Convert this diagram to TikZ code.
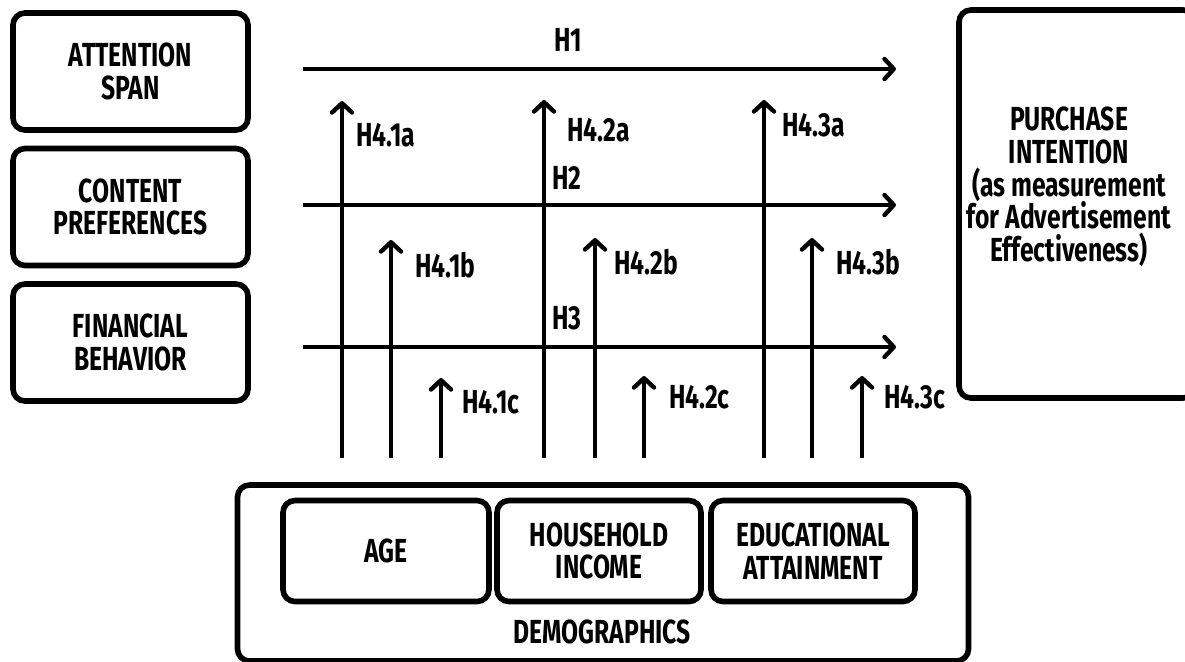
\documentclass[tikz,border=0pt]{standalone}
\usepackage{fontspec}
\setmainfont{Fira Sans}[FakeStretch=0.74]
\usetikzlibrary{arrows.meta}
\begin{document}
\begin{tikzpicture}[x=0.75pt,y=-0.75pt,
  box/.style={draw, line width=4.2pt, rounded corners=9pt, inner sep=0pt, align=center,
    font=\bfseries\fontsize{25}{24.6}\selectfont},
  txt/.style={inner sep=0pt, align=center, font=\bfseries\fontsize{25}{24.6}\selectfont},
  lab/.style={inner sep=0pt, anchor=west, font=\bfseries\fontsize{25}{24.6}\selectfont},
  arr/.style={line width=3.3pt, -{Straight Barb[length=7pt,width=15pt,line width=3.3pt,line cap=round,line join=round]}},
]
\useasboundingbox (0,0) rectangle (1185,661);
\begin{scope}
\clip (0,0) rectangle (1185,661);
% left boxes
\node[box, minimum width={235*0.75pt}, minimum height={117*0.75pt}] (att) at (130.5,71.5) {ATTENTION\\SPAN};
\node[box, minimum width={235*0.75pt}, minimum height={117*0.75pt}] (con) at (130.5,207) {CONTENT\\PREFERENCES};
\node[box, minimum width={235*0.75pt}, minimum height={117*0.75pt}] (fin) at (130.5,342.5) {FINANCIAL\\BEHAVIOR};
% right box
\node[box, minimum width={236*0.75pt}, minimum height={388*0.75pt}] (pi) at (1077,204) {};
\node[txt] (pitext) at (1069,187) {PURCHASE\\INTENTION\\(as measurement\\for Advertisement\\Effectiveness)};
% demographics
\node[box, minimum width={731*0.75pt}, minimum height={176*0.75pt}] (dem) at (603,573) {};
\node[txt] (demtext) at (602,632) {DEMOGRAPHICS};
\node[box, minimum width={206*0.75pt}, minimum height={101*0.75pt}] (age) at (386,551) {AGE};
\node[box, minimum width={204*0.75pt}, minimum height={101*0.75pt}] (inc) at (599,551) {HOUSEHOLD\\INCOME};
\node[box, minimum width={204*0.75pt}, minimum height={101*0.75pt}] (edu) at (813,551) {EDUCATIONAL\\ATTAINMENT};
\end{scope}
% horizontal arrows
\coordinate (h1s) at (303,69);  \coordinate (h1e) at (896,69);
\coordinate (h2s) at (303,205); \coordinate (h2e) at (896,205);
\coordinate (h3s) at (303,347); \coordinate (h3e) at (896,347);
\draw[arr] (h1s) -- (h1e);
\draw[arr] (h2s) -- (h2e);
\draw[arr] (h3s) -- (h3e);
\node[txt] (lh1) at (568,40) {H1};
\node[txt] (lh2) at (567,178) {H2};
\node[txt] (lh3) at (567,318) {H3};
% vertical arrows
\foreach \n/\x/\t in {1a/342/101,1b/391/240,1c/441/378,2a/544/100,2b/595/238,2c/644/376,3a/764/100,3b/812/238,3c/862/376}{
  \coordinate (v\n s) at (\x,458);
  \coordinate (v\n e) at (\x,\t);
  \draw[arr] (v\n s) -- (v\n e);
}
\node[lab] (l1a) at (356,135) {H4.1a};
\node[lab] (l2a) at (567,130) {H4.2a};
\node[lab] (l3a) at (782,125) {H4.3a};
\node[lab] (l1b) at (415,265) {H4.1b};
\node[lab] (l2b) at (614,262) {H4.2b};
\node[lab] (l3b) at (836,262) {H4.3b};
\node[lab] (l1c) at (462,402) {H4.1c};
\node[lab] (l2c) at (669,397) {H4.2c};
\node[lab] (l3c) at (884,397) {H4.3c};
\end{tikzpicture}
\end{document}
